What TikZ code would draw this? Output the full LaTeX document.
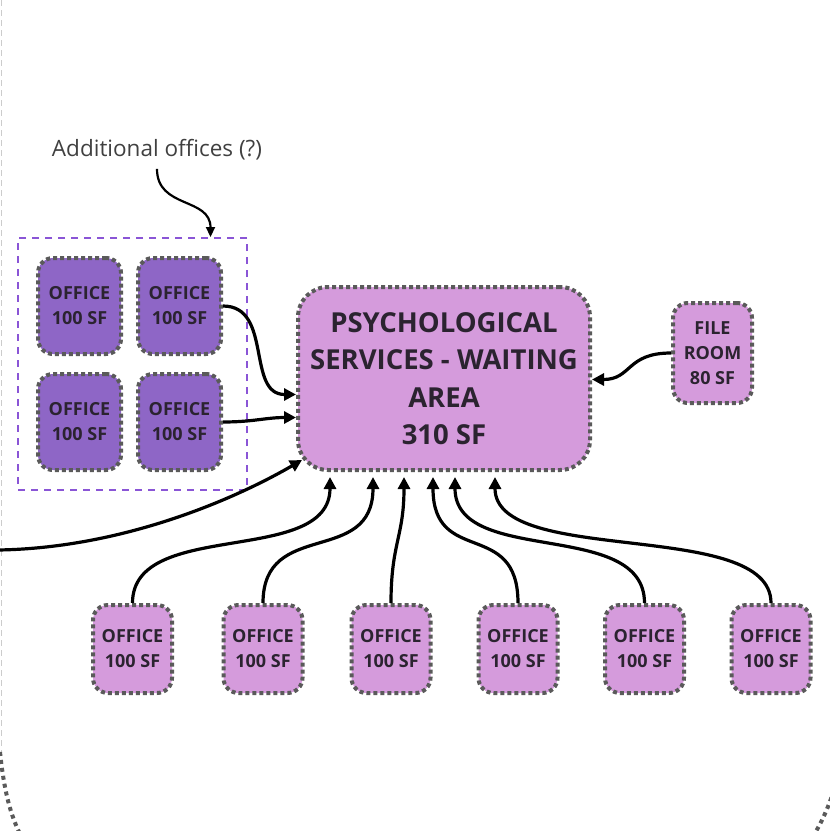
\documentclass[tikz,border=0pt]{standalone}
\usepackage{fontspec}
\setmainfont{Open Sans}
\usetikzlibrary{arrows.meta}
\definecolor{roomfill}{HTML}{D59BDC}
\definecolor{extrafill}{HTML}{8E66C6}
\definecolor{grpline}{HTML}{8A55D6}
\definecolor{dotline}{HTML}{5A5A5A}
\definecolor{labeltext}{HTML}{2B2330}
\tikzset{
  room/.style={draw=dotline,line width=4pt,dash pattern=on 4pt off 3pt,rounded corners=15pt,
    fill=roomfill,text=labeltext,align=center,inner sep=0pt,
    font=\bfseries\fontsize{18}{25}\selectfont},
  extraroom/.style={room,fill=extrafill,minimum width=83pt,minimum height=96pt},
  office/.style={room,minimum width=79pt,minimum height=88pt},
  link/.style={line width=3.2pt,-{Triangle[length=12pt,width=12pt]}},
}
\begin{document}
\begin{tikzpicture}[x=1pt,y=-1pt]
\useasboundingbox (0,0) rectangle (830,831);

\begin{scope}
\clip (0,0) rectangle (830,831);
\draw[black!20,line width=1pt,dash pattern=on 6pt off 4pt] (1,0) -- (1,752);
\draw[dotline,line width=4pt,dash pattern=on 4pt off 4pt] (0,752) .. controls (4,790) and (10,815) .. (22,838);
\draw[dotline,line width=4pt,dash pattern=on 4pt off 4pt] (834,790) .. controls (828,808) and (822,822) .. (812,838);
\end{scope}

\node[text=black!75,font=\fontsize{22.5}{26}\selectfont] (note) at (157,150) {Additional offices (?)};
\node[draw=grpline,line width=2pt,dash pattern=on 7pt off 6pt,minimum width=229pt,minimum height=252pt] (grp) at (132.5,364) {};

\node[extraroom] (x1) at (79.5,306) {OFFICE\\100 SF};
\node[extraroom] (x2) at (179.5,306) {OFFICE\\100 SF};
\node[extraroom] (x3) at (79.5,422) {OFFICE\\100 SF};
\node[extraroom] (x4) at (179.5,422) {OFFICE\\100 SF};

\node[room,rounded corners=30pt,minimum width=292pt,minimum height=183pt,
  font=\bfseries\fontsize{27.5}{37.5}\selectfont] (wait) at (444,378.5)
  {PSYCHOLOGICAL\\SERVICES - WAITING\\AREA\\310 SF};
\node[room,minimum width=79pt,minimum height=100pt] (file) at (712.5,353) {FILE\\ROOM\\80 SF};

\node[office] (o1) at (132.5,649) {OFFICE\\100 SF};
\node[office] (o2) at (263,649) {OFFICE\\100 SF};
\node[office] (o3) at (391,649) {OFFICE\\100 SF};
\node[office] (o4) at (518,649) {OFFICE\\100 SF};
\node[office] (o5) at (644.5,649) {OFFICE\\100 SF};
\node[office] (o6) at (771,649) {OFFICE\\100 SF};

\coordinate (west) at (-2,550);

\draw[link,line width=2.2pt,-{Triangle[length=10pt,width=9pt]}] ([yshift=-5pt]note.south) .. controls +(0,40) and +(0,-40) .. ([xshift=78pt]grp.north);
\draw[link] (x2.east) .. controls +(50,0) and +(-50,0) .. ([yshift=-16pt]wait.west);
\draw[link] (x4.east) .. controls +(30,0) and +(-30,0) .. ([yshift=-39pt]wait.west);
\draw[link] (west) .. controls +(130,-2) and +(-60,35) .. ([xshift=6pt,yshift=12pt]wait.south west);
\draw[link] (file.west) .. controls +(-45,0) and +(40,0) .. ([yshift=-1pt]wait.east);
\draw[link] (o1.north) .. controls +(0,-85) and +(0,90) .. ([xshift=-114pt,yshift=-5pt]wait.south);
\draw[link] (o2.north) .. controls +(0,-85) and +(0,90) .. ([xshift=-71pt,yshift=-5pt]wait.south);
\draw[link] (o3.north) .. controls +(0,-60) and +(0,60) .. ([xshift=-40pt,yshift=-5pt]wait.south);
\draw[link] (o4.north) .. controls +(0,-85) and +(0,90) .. ([xshift=-11pt,yshift=-5pt]wait.south);
\draw[link] (o5.north) .. controls +(0,-85) and +(0,90) .. ([xshift=11pt,yshift=-5pt]wait.south);
\draw[link] (o6.north) .. controls +(0,-85) and +(0,90) .. ([xshift=51pt,yshift=-5pt]wait.south);
\end{tikzpicture}
\end{document}
